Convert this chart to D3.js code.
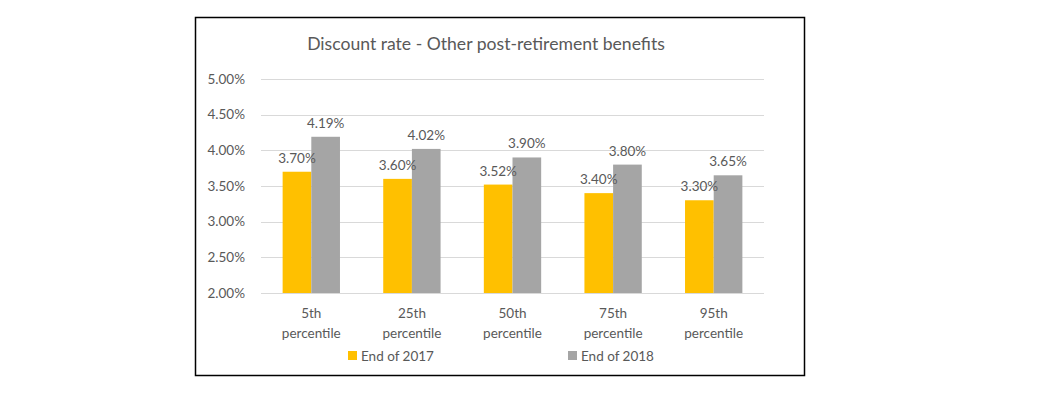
<!DOCTYPE html>
<html>
<head>
<meta charset="utf-8">
<script src="https://cdn.jsdelivr.net/npm/d3@7"></script>
<style>
  body { margin: 0; background: #fff; }
  text { font-family: Lato, "Noto Sans", sans-serif; fill: #595959; }
</style>
</head>
<body>
<div id="chart"></div>
<script>
// Chart data
const categories = ["5th percentile", "25th percentile", "50th percentile", "75th percentile", "95th percentile"];
const seriesNames = ["End of 2017", "End of 2018"];
const end2017 = [3.70, 3.60, 3.52, 3.40, 3.30];
const end2018 = [4.19, 4.02, 3.90, 3.80, 3.65];
const yTicks = [2.0, 2.5, 3.0, 3.5, 4.0, 4.5, 5.0];
const colors = ["#FFC000", "#A5A5A5"];

const W = 1053, H = 393;
const margin = {top: 79, right: 289, bottom: 100, left: 261};
const width = W - margin.left - margin.right,
      height = H - margin.top - margin.bottom;

const svg = d3.select("#chart").append("svg")
    .attr("width", W)
    .attr("height", H);

// outer frame
svg.append("rect")
    .attr("x", 195.5).attr("y", 17.5)
    .attr("width", 609).attr("height", 358)
    .attr("fill", "#fff")
    .attr("stroke", "#000")
    .attr("stroke-width", 1.5);

svg.append("text")
    .attr("x", 486).attr("y", 50)
    .attr("text-anchor", "middle")
    .style("font-size", "17.6px")
    .text("Discount rate - Other post-retirement benefits");

const g = svg.append("g")
    .attr("transform", "translate(" + margin.left + "," + margin.top + ")");

const y = d3.scaleLinear().domain([2, 5]).range([height, 0]);
const x0 = d3.scaleBand().domain(categories).range([0, width]).paddingInner(0.43).paddingOuter(0.215);
const x1 = d3.scaleBand().domain(seriesNames).range([0, x0.bandwidth()]);

// gridlines
g.selectAll(".grid")
    .data(yTicks)
    .enter().append("line")
    .attr("x1", 0).attr("x2", width)
    .attr("y1", d => Math.round(y(d)) + 0.5)
    .attr("y2", d => Math.round(y(d)) + 0.5)
    .attr("stroke", "#D9D9D9")
    .attr("stroke-width", 1);

// y axis labels
const yAxis = g.append("g")
    .call(d3.axisLeft(y).tickValues(yTicks).tickFormat(d => d.toFixed(2) + "%").tickSize(0).tickPadding(16));
yAxis.select(".domain").remove();
yAxis.selectAll("text").style("font-size", "13.5px").attr("fill", "#595959");

const rows = categories.map((c, i) => ({cat: c, vals: [end2017[i], end2018[i]]}));

const groups = g.selectAll(".cat")
    .data(rows)
    .enter().append("g")
    .attr("transform", d => "translate(" + x0(d.cat) + ",0)");

groups.selectAll("rect")
    .data(d => d.vals.map((v, j) => ({name: seriesNames[j], v: v, j: j})))
    .enter().append("rect")
    .attr("x", d => x1(d.name))
    .attr("width", x1.bandwidth())
    .attr("y", d => y(d.v))
    .attr("height", d => height - y(d.v))
    .attr("fill", d => colors[d.j]);

groups.selectAll(".lbl")
    .data(d => d.vals.map((v, j) => ({name: seriesNames[j], v: v, j: j})))
    .enter().append("text")
    .attr("class", "lbl")
    .attr("x", d => x1(d.name) + x1.bandwidth() / 2)
    .attr("y", d => y(d.v) - 9)
    .attr("text-anchor", "middle")
    .style("font-size", "13.5px")
    .text(d => d.v.toFixed(2) + "%");

// x axis labels, two lines
const xl = g.selectAll(".xl")
    .data(categories)
    .enter().append("text")
    .attr("x", d => x0(d) + x0.bandwidth() / 2)
    .attr("y", height + 25)
    .attr("text-anchor", "middle")
    .style("font-size", "13.5px");
xl.append("tspan").attr("x", d => x0(d) + x0.bandwidth() / 2).text(d => d.split(" ")[0]);
xl.append("tspan").attr("x", d => x0(d) + x0.bandwidth() / 2).attr("dy", 20).text(d => d.split(" ")[1]);

// legend
const legendX = [348, 568];
const legend = svg.selectAll(".legend")
    .data(seriesNames)
    .enter().append("g")
    .attr("transform", (d, i) => "translate(" + legendX[i] + ",351)");
legend.append("rect")
    .attr("width", 9).attr("height", 9)
    .attr("fill", (d, i) => colors[i]);
legend.append("text")
    .attr("x", 13).attr("y", 9.5)
    .style("font-size", "13.5px")
    .text(d => d);
</script>
</body>
</html>
